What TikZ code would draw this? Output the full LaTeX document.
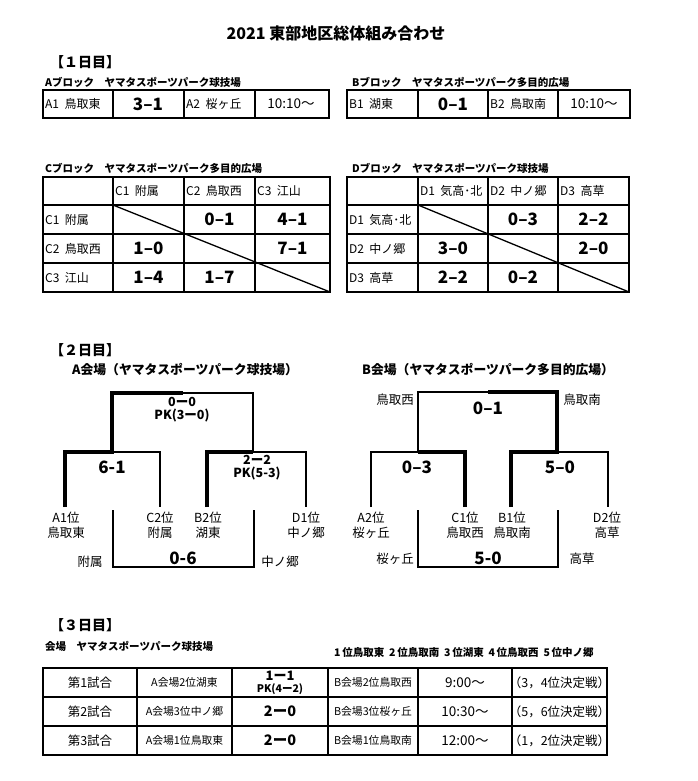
\documentclass[tikz,border=0pt]{standalone}
\usepackage{fontspec}
\setmainfont{Noto Sans CJK JP}

\begin{document}
\begin{tikzpicture}[x=1pt,y=-1pt,
    table line/.style={line width=1.6pt},
    slash line/.style={line width=1.3pt},
    lose edge/.style={line width=1.6pt},
    win edge/.style={line width=3.6pt},
    title text/.style={inner sep=0pt,font=\fontsize{16}{16}\selectfont\bfseries},
    day text/.style={inner sep=0pt,anchor=west,font=\fontsize{14}{14}\selectfont\bfseries},
    head text/.style={inner sep=0pt,anchor=west,font=\fontsize{10.5}{10.5}\selectfont\bfseries},
    venue text/.style={inner sep=0pt,anchor=west,font=\fontsize{12.8}{12.8}\selectfont\bfseries},
    team text/.style={inner sep=0pt,anchor=west,font=\fontsize{12}{12}\selectfont},
    time text/.style={inner sep=0pt,font=\fontsize{13.5}{13.5}\selectfont},
    big score/.style={inner sep=0pt,font=\fontsize{17}{17}\selectfont\bfseries},
    small score/.style={inner sep=0pt,font=\fontsize{12.5}{12.5}\selectfont\bfseries},
    seed text/.style={inner sep=0pt,align=center,font=\fontsize{12.5}{15}\selectfont},
    name text/.style={inner sep=0pt,font=\fontsize{12.5}{12.5}\selectfont},
    match text/.style={inner sep=0pt,font=\fontsize{12.5}{12.5}\selectfont},
    pair text/.style={inner sep=0pt,font=\fontsize{10.8}{10.8}\selectfont}]
  \useasboundingbox[fill=white] (0,0) rectangle (697,781);

  % title
  \node[title text] (title) at (336,33) {2021 東部地区総体組み合わせ};

  % --- day 1 ---
  \node[day text] (day1) at (50,62) {【１日目】};
  \node[head text] (headA) at (45,82) {Aブロック\quad ヤマタスポーツパーク球技場};
  \node[head text] (headB) at (352,82) {Bブロック\quad ヤマタスポーツパーク多目的広場};

  \draw[table line] (43,90) rectangle (329,118);
  \draw[table line] (113,90) -- (113,118) (184,90) -- (184,118) (255,90) -- (255,118);
  \node[team text] (a1) at (45,104) {A1~~鳥取東};
  \node[big score] (sA) at (148,104) {3–1};
  \node[team text] (a2) at (186,104) {A2~~桜ヶ丘};
  \node[time text] (tA) at (291,104) {10:10〜};

  \draw[table line] (347,90) rectangle (630,118);
  \draw[table line] (418,90) -- (418,118) (488,90) -- (488,118) (558,90) -- (558,118);
  \node[team text] (b1) at (349,104) {B1~~湖東};
  \node[big score] (sB) at (453,104) {0–1};
  \node[team text] (b2) at (490,104) {B2~~鳥取南};
  \node[time text] (tB) at (594,104) {10:10〜};

  % C block
  \node[head text] (headC) at (45,168) {Cブロック\quad ヤマタスポーツパーク多目的広場};
  \draw[table line] (43,177) rectangle (330,292);
  \draw[table line] (43,205) -- (330,205) (43,234) -- (330,234) (43,263) -- (330,263);
  \draw[table line] (113,177) -- (113,292) (184,177) -- (184,292) (255,177) -- (255,292);
  \draw[slash line] (113,205) -- (330,292);
  \node[team text] (c1h) at (115,191) {C1~~附属};
  \node[team text] (c2h) at (186,191) {C2~~鳥取西};
  \node[team text] (c3h) at (257,191) {C3~~江山};
  \node[team text] (c1) at (45,219.5) {C1~~附属};
  \node[team text] (c2) at (45,248.5) {C2~~鳥取西};
  \node[team text] (c3) at (45,277.5) {C3~~江山};
  \node[big score] (c12) at (219.5,219.5) {0–1};
  \node[big score] (c13) at (292.5,219.5) {4–1};
  \node[big score] (c21) at (148.5,248.5) {1–0};
  \node[big score] (c23) at (292.5,248.5) {7–1};
  \node[big score] (c31) at (148.5,277.5) {1–4};
  \node[big score] (c32) at (219.5,277.5) {1–7};

  % D block
  \node[head text] (headD) at (352,168) {Dブロック\quad ヤマタスポーツパーク球技場};
  \draw[table line] (347,177) rectangle (629,292);
  \draw[table line] (347,205) -- (629,205) (347,234) -- (629,234) (347,263) -- (629,263);
  \draw[table line] (418,177) -- (418,292) (488,177) -- (488,292) (558,177) -- (558,292);
  \draw[slash line] (418,205) -- (629,292);
  \node[team text] (d1h) at (420,191) {D1~~気高･北};
  \node[team text] (d2h) at (490,191) {D2~~中ノ郷};
  \node[team text] (d3h) at (560,191) {D3~~高草};
  \node[team text] (d1) at (349,219.5) {D1~~気高･北};
  \node[team text] (d2) at (349,248.5) {D2~~中ノ郷};
  \node[team text] (d3) at (349,277.5) {D3~~高草};
  \node[big score] (d12) at (523,219.5) {0–3};
  \node[big score] (d13) at (593.5,219.5) {2–2};
  \node[big score] (d21) at (453,248.5) {3–0};
  \node[big score] (d23) at (593.5,248.5) {2–0};
  \node[big score] (d31) at (453,277.5) {2–2};
  \node[big score] (d32) at (523,277.5) {0–2};

  % --- day 2 ---
  \node[day text] (day2) at (50,350) {【２日目】};
  \node[venue text] (venueA) at (72,370) {A会場（ヤマタスポーツパーク球技場）};
  \node[venue text] (venueB) at (362,370) {B会場（ヤマタスポーツパーク多目的広場）};

  % A venue
  \node[seed text] (sA1) at (66,525) {A1位\\鳥取東};
  \node[seed text] (sC2) at (160,525) {C2位\\附属};
  \node[seed text] (sB2) at (208,525) {B2位\\湖東};
  \node[seed text] (sD1) at (306,525) {D1位\\中ノ郷};
  \draw[lose edge] (65,507) -- (65,452) -- (160,452) -- (160,507);
  \draw[lose edge] (207,507) -- (207,452) -- (306,452) -- (306,507);
  \draw[lose edge] (112,452) -- (112,393) -- (253,393) -- (253,452);
  \draw[win edge] (65,507) -- (65,452) -- (112,452) -- (112,393) -- (183,393);
  \draw[win edge] (207,507) -- (207,452) -- (253,452);
  \node[small score] (fA1) at (182,402) {0ー0};
  \node[small score] (fA2) at (182,416) {PK(3ー0)};
  \node[big score] (mA1) at (112,467) {6-1};
  \node[small score] (mA2) at (257,460) {2ー2};
  \node[small score] (mA3) at (257,474) {PK(5-3)};
  \draw[lose edge] (113,510) -- (113,567) -- (254,567) -- (254,510);
  \node[big score] (tA3) at (183,558) {0-6};
  \node[name text] (lA1) at (90,562) {附属};
  \node[name text] (lA2) at (280,562) {中ノ郷};

  % B venue
  \node[seed text] (sA2) at (371,525) {A2位\\桜ヶ丘};
  \node[seed text] (sC1) at (465,525) {C1位\\鳥取西};
  \node[seed text] (sB1) at (512,525) {B1位\\鳥取南};
  \node[seed text] (sD2) at (607,525) {D2位\\高草};
  \draw[lose edge] (371,507) -- (371,452) -- (465,452) -- (465,507);
  \draw[lose edge] (511,507) -- (511,452) -- (608,452) -- (608,507);
  \draw[lose edge] (418,452) -- (418,392) -- (557,392) -- (557,452);
  \draw[win edge] (465,507) -- (465,452) -- (418,452);
  \draw[win edge] (511,507) -- (511,452) -- (557,452) -- (557,392) -- (488,392);
  \node[name text] (fB1) at (395,400) {鳥取西};
  \node[name text] (fB2) at (582,400) {鳥取南};
  \node[big score] (fB) at (488,408) {0–1};
  \node[big score] (mB1) at (417,467) {0–3};
  \node[big score] (mB2) at (560,467) {5–0};
  \draw[lose edge] (418,510) -- (418,567) -- (558,567) -- (558,510);
  \node[big score] (tB3) at (488,558) {5-0};
  \node[name text] (lB1) at (395,559) {桜ヶ丘};
  \node[name text] (lB2) at (582,559) {高草};

  % --- day 3 ---
  \node[day text] (day3) at (50,625) {【３日目】};
  \node[head text] (venueC) at (45,646) {会場\quad ヤマタスポーツパーク球技場};
  \node[head text] (rank) at (334,652) {1\,位鳥取東~~2\,位鳥取南~~3\,位湖東~~4\,位鳥取西~~5\,位中ノ郷};

  \draw[table line] (43,668) rectangle (607,755);
  \draw[table line] (43,697) -- (607,697) (43,726) -- (607,726);
  \draw[table line] (137,668) -- (137,755) (232,668) -- (232,755) (328,668) -- (328,755)
    (418,668) -- (418,755) (512,668) -- (512,755);

  \node[match text] (m1) at (90,682.5) {第1試合};
  \node[pair text] (m1a) at (184.5,682.5) {A会場2位湖東};
  \node[inner sep=0pt,font=\fontsize{13}{13}\selectfont\bfseries] (m1s) at (280,676) {1ー1};
  \node[inner sep=0pt,font=\fontsize{10.5}{10.5}\selectfont\bfseries] (m1p) at (280,689) {PK(4ー2)};
  \node[pair text] (m1b) at (373,682.5) {B会場2位鳥取西};
  \node[time text] (m1t) at (465,682.5) {9:00〜};
  \node[match text] (m1r) at (559.5,682.5) {（3，4位決定戦）};

  \node[match text] (m2) at (90,711.5) {第2試合};
  \node[pair text] (m2a) at (184.5,711.5) {A会場3位中ノ郷};
  \node[inner sep=0pt,font=\fontsize{14.5}{14.5}\selectfont\bfseries] (m2s) at (280,711.5) {2ー0};
  \node[pair text] (m2b) at (373,711.5) {B会場3位桜ヶ丘};
  \node[time text] (m2t) at (465,711.5) {10:30〜};
  \node[match text] (m2r) at (559.5,711.5) {（5，6位決定戦）};

  \node[match text] (m3) at (90,740.5) {第3試合};
  \node[pair text] (m3a) at (184.5,740.5) {A会場1位鳥取東};
  \node[inner sep=0pt,font=\fontsize{14.5}{14.5}\selectfont\bfseries] (m3s) at (280,740.5) {2ー0};
  \node[pair text] (m3b) at (373,740.5) {B会場1位鳥取南};
  \node[time text] (m3t) at (465,740.5) {12:00〜};
  \node[match text] (m3r) at (559.5,740.5) {（1，2位決定戦）};
\end{tikzpicture}
\end{document}
